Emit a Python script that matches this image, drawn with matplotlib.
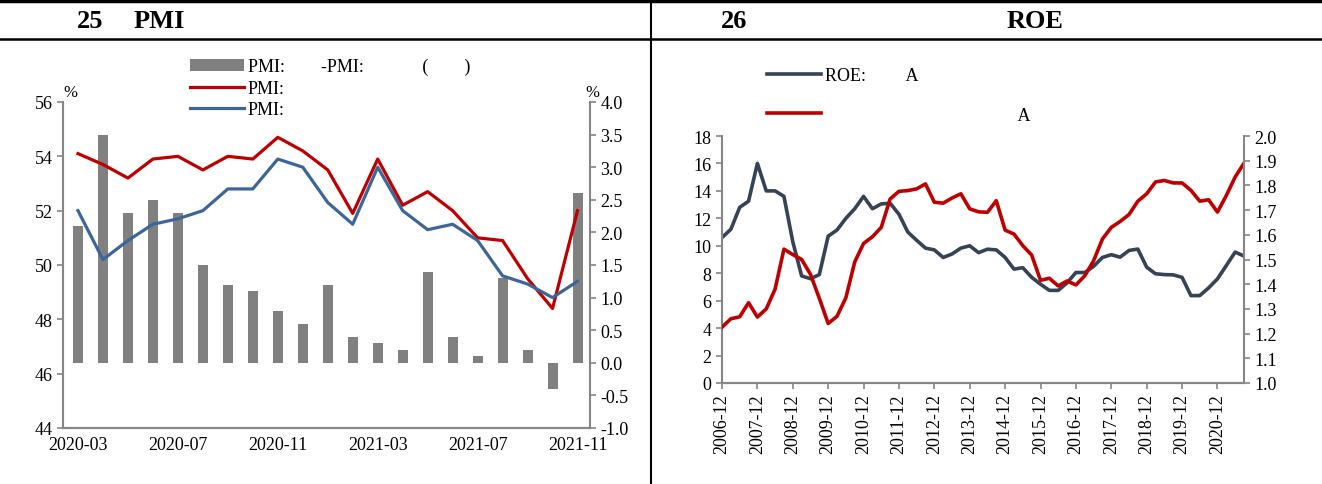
import matplotlib
matplotlib.use("Agg")
import matplotlib.pyplot as plt
import numpy as np
import pandas as pd
from matplotlib.lines import Line2D

plt.rcParams["font.family"] = ["Liberation Serif", "DejaVu Sans"]
plt.rcParams["font.size"] = 13

# ---- chart 25 data: monthly PMI
months = pd.period_range("2020-03", "2021-11", freq="M").strftime("%Y-%m").tolist()
pmi_diff = [2.1, 3.5, 2.3, 2.5, 2.3, 1.5, 1.2, 1.1, 0.8, 0.6, 1.2,
            0.4, 0.3, 0.2, 1.4, 0.4, 0.1, 1.3, 0.2, -0.4, 2.6]
pmi_red = [54.1, 53.7, 53.2, 53.9, 54.0, 53.5, 54.0, 53.9, 54.7, 54.2, 53.5,
           51.9, 53.9, 52.2, 52.7, 52.0, 51.0, 50.9, 49.5, 48.4, 52.0]
pmi_blue = [52.0, 50.2, 50.9, 51.5, 51.7, 52.0, 52.8, 52.8, 53.9, 53.6, 52.3,
            51.5, 53.6, 52.0, 51.3, 51.5, 50.9, 49.6, 49.3, 48.8, 49.4]
pmi_ticks = ["2020-03", "2020-07", "2020-11", "2021-03", "2021-07", "2021-11"]

# ---- chart 26 data: quarterly ROE
quarters = pd.date_range("2006-12-31", periods=60, freq="QE").strftime("%Y-%m").tolist()
roe = [10.6, 11.2, 12.8, 13.25, 16.0, 14.0, 14.0, 13.6, 10.3, 7.8, 7.6, 7.9,
       10.7, 11.15, 12.0, 12.7, 13.6, 12.7, 13.05, 13.1, 12.3, 11.0, 10.4, 9.83,
       9.7, 9.15, 9.4, 9.83, 10.0, 9.5, 9.75, 9.7, 9.15, 8.3, 8.4, 7.7,
       7.2, 6.75, 6.75, 7.3, 8.05, 8.05, 8.5, 9.15, 9.35, 9.17, 9.66, 9.76,
       8.44, 7.96, 7.9, 7.88, 7.7, 6.37, 6.37, 6.93, 7.59, 8.56, 9.54, 9.25]
roe_red = [1.226, 1.26, 1.268, 1.325, 1.267, 1.30, 1.38, 1.542, 1.52, 1.50, 1.44, 1.343,
           1.241, 1.27, 1.345, 1.49, 1.565, 1.592, 1.63, 1.745, 1.776, 1.779, 1.786, 1.806,
           1.732, 1.728, 1.749, 1.766, 1.705, 1.693, 1.691, 1.738, 1.619, 1.603, 1.556, 1.518,
           1.416, 1.424, 1.393, 1.413, 1.397, 1.434, 1.495, 1.583, 1.63, 1.654, 1.682, 1.736,
           1.766, 1.814, 1.82, 1.81, 1.81, 1.78, 1.736, 1.742, 1.692, 1.759, 1.834, 1.89]

GRAY = "#868686"
RED = "#C00000"
BLUE = "#3C6699"
NAVY = "#364255"

W, H = 1322, 485
fig = plt.figure(figsize=(W / 100, H / 100), dpi=100)


def box(x0, y0, x1, y1):
    # pixel box (top-left origin) -> figure rect
    return [x0 / W, 1 - y1 / H, (x1 - x0) / W, (y1 - y0) / H]


def style_axis(ax, spines):
    for s in ["left", "right", "top", "bottom"]:
        ax.spines[s].set_visible(s in spines)
        ax.spines[s].set_color(GRAY)
        ax.spines[s].set_linewidth(1.5)
    ax.tick_params(colors=GRAY, labelcolor="black", width=1.2, length=4, labelsize=13)


# frame lines
fig.add_artist(Line2D([0, 1], [1 - 2 / H, 1 - 2 / H], color="black", lw=2.5, transform=fig.transFigure))
fig.add_artist(Line2D([0, 1], [1 - 40 / H, 1 - 40 / H], color="black", lw=1.8, transform=fig.transFigure))
fig.add_artist(Line2D([651 / W, 651 / W], [0, 1], color="black", lw=1.5, transform=fig.transFigure))

fig.text(90 / W, 1 - 22 / H, "25", fontsize=19, fontweight="bold", ha="center", va="center")
fig.text(159 / W, 1 - 22 / H, "PMI", fontsize=19, fontweight="bold", ha="center", va="center")
fig.text(734 / W, 1 - 22 / H, "26", fontsize=19, fontweight="bold", ha="center", va="center")
fig.text(1035 / W, 1 - 22 / H, "ROE", fontsize=19, fontweight="bold", ha="center", va="center")

# ---- chart 25
ax1 = fig.add_axes(box(63, 103, 590, 429))
ax2 = ax1.twinx()
x = np.arange(len(months))
bars = ax2.bar(x, pmi_diff, width=0.4, color="#808080")
l_red, = ax1.plot(x, pmi_red, color=RED, lw=2.3)
l_blue, = ax1.plot(x, pmi_blue, color=BLUE, lw=2.3)
ax1.set_zorder(ax2.get_zorder() + 1)
ax1.patch.set_visible(False)

ax1.set_xlim(-0.6, 20.5)
ax1.set_ylim(44, 56)
ax1.set_yticks(np.arange(44, 57, 2))
ax2.set_ylim(-1.0, 4.0)
ax2.set_yticks(np.arange(-1.0, 4.01, 0.5))
ax2.set_yticklabels([f"{v:.1f}" for v in np.arange(-1.0, 4.01, 0.5)])
ax1.set_xticks([months.index(m) for m in pmi_ticks])
ax1.set_xticklabels(pmi_ticks)
style_axis(ax1, ["left", "bottom"])
style_axis(ax2, ["right", "bottom"])
ax1.tick_params(axis="x", length=0, pad=6)
fig.text(70 / W, 1 - 93 / H, "%", fontsize=12, ha="center", va="center")
fig.text(592 / W, 1 - 93 / H, "%", fontsize=12, ha="center", va="center")

fig.legend([bars, l_red, l_blue],
           ["PMI:" + " " * 8 + "-PMI:" + " " * 13 + "(" + " " * 8 + ")", "PMI:", "PMI:"],
           loc="upper left", bbox_to_anchor=(190 / W, 1 - 59 / H), frameon=False,
           fontsize=13, handlelength=3.0, handletextpad=0.2, labelspacing=0.25,
           borderpad=0, borderaxespad=0)

# ---- chart 26
ax3 = fig.add_axes(box(722, 137, 1244, 384))
ax4 = ax3.twinx()
q = np.arange(len(quarters))
l_roe, = ax3.plot(q, roe, color=NAVY, lw=2.6)
l_roe2, = ax4.plot(q, roe_red, color=RED, lw=2.6)
ax3.set_xlim(0, len(quarters) - 1)
ax3.set_ylim(0, 18)
ax3.set_yticks(np.arange(0, 19, 2))
ax4.set_ylim(1.0, 2.0)
ax4.set_yticks(np.arange(1.0, 2.01, 0.1))
ax4.set_yticklabels([f"{v:.1f}" for v in np.arange(1.0, 2.01, 0.1)])
ax3.set_xticks(q[::4])
ax3.set_xticklabels(quarters[::4], rotation=90)
style_axis(ax3, ["left", "bottom"])
style_axis(ax4, ["right", "bottom"])

fig.legend([l_roe, l_roe2], ["ROE:" + " " * 9 + "A", " " * 43 + "A"],
           loc="upper left", bbox_to_anchor=(767 / W, 1 - 68 / H), frameon=False,
           fontsize=13, handlelength=3.0, handletextpad=0.2, labelspacing=1.25,
           borderpad=0, borderaxespad=0)

fig.savefig("out.png", dpi=100)
